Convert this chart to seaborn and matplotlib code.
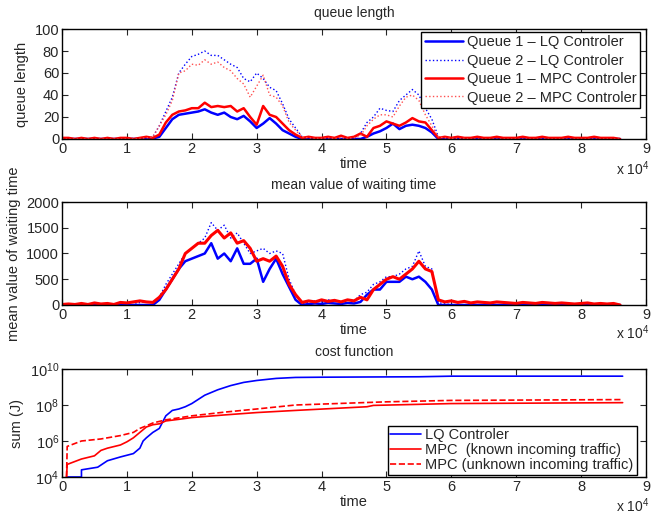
import numpy as np
import pandas as pd
import matplotlib
matplotlib.use("Agg")
import matplotlib.pyplot as plt
import seaborn as sns

# ---------------- data (time in seconds) ----------------
time_s = np.arange(0, 86001, 1000)  # 0 .. 86000 s, 87 samples

q1_lq = [0,0,0,0,0,0,0,0,0,0,0,0,0,0,
         0.5,2,10,18,22,23,24,25,27,24,22,24,20,18,21,16,10,14,19,14,8,5,2,0,
         0,0,0,0,0,0,0,0,0,
         2,5,7,10,14,9,12,13,12,10,6,0,
         0,0,0,0,0,0,0,0,0,0,0,0,0,0,0,0,0,0,0,0,0,0,0,0,0,0,0,0]
q2_lq = [0,0,0,0,0,0,0,0,0,0,0,0.5,0.5,1,
         2,12,25,38,60,68,75,77,80,76,76,72,68,65,55,52,60,55,47,44,32,18,10,2,
         0.5,0,0,0,0,0,0,1,5,
         15,20,28,26,25,35,40,45,40,28,18,2,
         1,0.5,0,0,0,0,0,0,0,0,0,0,0,0,0,0,0,0,0,0,0,0,1,0,0,0,0,0]
q1_mpc = [1,1,0,1,0,1,0,1,0,1,1,0,1,2,
          1,4,15,22,25,26,28,28,33,29,30,29,30,25,28,20,13,30,22,20,14,8,4,1,
          2,1,1,2,1,3,1,2,5,
          2,10,12,16,14,12,15,19,16,15,8,1,
          2,1,2,1,1,2,1,1,2,1,1,1,2,1,1,2,1,1,1,2,1,1,1,2,1,1,1,0]
q2_mpc = [0,0,0,0,0,0,0,0,0,0,0,0,0.5,1,
          2,12,22,35,60,62,68,67,72,68,70,65,62,55,50,38,48,58,40,38,30,15,8,2,
          1,0.5,0.5,1,0.5,1,0.5,1,3,
          12,18,22,22,20,30,38,40,35,22,12,2,
          1,0.5,0.5,0.5,0,0,0,0,0,0,0,0,0,0,0,0,0,0,0,0,0,0,0,0,0,0,0,0]

w1_lq = [0,0,0,0,0,0,0,0,0,0,0,0,0,0,
         0,100,300,500,700,850,900,950,1000,1200,900,1000,850,1100,800,800,900,450,700,900,600,350,100,0,
         20,30,20,40,30,20,40,30,60,
         200,300,300,450,450,450,550,500,550,450,300,0,
         0,0,0,0,0,0,0,0,0,0,0,0,0,0,0,0,0,0,0,0,0,0,0,0,0,0,0,0]
w2_lq = [0,0,0,0,20,0,0,0,0,0,0,0,50,60,
         50,150,400,600,800,1000,1100,1200,1300,1600,1450,1550,1300,1400,1200,1000,1050,1100,1000,1050,1000,500,200,20,
         60,80,60,100,80,60,100,80,200,
         250,400,450,550,550,600,700,750,1050,750,700,50,
         20,10,0,0,0,0,0,0,0,0,0,0,0,0,0,0,0,0,0,0,0,0,0,0,0,0,0,0]
w1_mpc = [10,20,10,30,10,40,20,30,10,50,40,60,80,60,
          50,150,300,500,700,1000,1100,1200,1200,1350,1450,1300,1400,1200,1250,1100,850,900,850,950,750,400,200,50,
          80,60,100,70,90,60,100,80,150,
          100,300,400,500,550,500,600,700,850,700,650,100,
          60,80,50,70,40,60,50,40,60,50,40,30,50,40,30,50,40,30,40,30,20,30,40,20,30,20,30,0]

cost_lq_t = [700,3000,3000,5500,7000,9000,11000,12000,12500,13000,14000,15000,16000,17000,18000,19000,
             20000,22000,24000,26000,28000,30000,33000,36000,40000,47000,55000,60000,70000,86400]
cost_lq = [1e4,1e4,2.5e4,3.5e4,8e4,1.3e5,2e5,4e5,1e6,1.5e6,3e6,5e6,2.5e7,5e7,6e7,8e7,
           1.2e8,3.5e8,7e8,1.2e9,1.8e9,2.3e9,3e9,3.4e9,3.5e9,3.6e9,3.7e9,4e9,4e9,4e9]
cost_mpc_t = [700,800,3000,5000,6000,7000,9000,10000,11000,12000,13000,14000,15000,16000,18000,
              20000,25000,30000,36000,47000,48000,60000,86400]
cost_mpc = [1e4,5e4,1e5,1.5e5,3e5,4e5,6e5,9e5,1.5e6,3e6,6e6,8e6,9e6,1.3e7,1.6e7,
            2e7,2.8e7,3.8e7,5e7,8e7,9.5e7,1.2e8,1.35e8]
cost_mpcu_t = [700,800,3000,6000,9000,11000,12000,13000,14000,16000,20000,25000,30000,36000,
               45000,50000,60000,86400]
cost_mpcu = [1e4,5e5,1e6,1.3e6,2e6,3e6,5e6,7e6,1e7,1.5e7,2.5e7,4e7,6e7,1e8,
             1.3e8,1.5e8,1.8e8,2e8]

xticks = np.arange(0, 90001, 10000)
xticklabels = [str(i) for i in range(10)]

# ---------------- style ----------------
sns.set_style("ticks")
plt.rcParams['font.family'] = ['Liberation Sans', 'DejaVu Sans']
plt.rcParams['mathtext.default'] = 'regular'
plt.rcParams['xtick.direction'] = 'in'
plt.rcParams['ytick.direction'] = 'in'
plt.rcParams['xtick.top'] = True
plt.rcParams['ytick.right'] = True
plt.rcParams['axes.edgecolor'] = 'black'
plt.rcParams['axes.linewidth'] = 1.0
plt.rcParams['font.size'] = 10

fig = plt.figure(figsize=(6.52, 5.16), dpi=100)
W, H = 652, 516
def axrect(l, r, t, b):
    return [l / W, 1 - b / H, (r - l) / W, (b - t) / H]

ax1 = fig.add_axes(axrect(62, 646, 29, 139))
ax2 = fig.add_axes(axrect(62, 646, 202, 305))
ax3 = fig.add_axes(axrect(62, 646, 369, 477))

blue = '#0000ff'
red = '#ff0000'

# queue length
sns.lineplot(x=time_s, y=q1_lq, ax=ax1, color=blue, lw=1.8, label='Queue 1 – LQ Controler')
sns.lineplot(x=time_s, y=q2_lq, ax=ax1, color=blue, lw=1.0, linestyle=':', label='Queue 2 – LQ Controler')
sns.lineplot(x=time_s, y=q1_mpc, ax=ax1, color=red, lw=1.8, label='Queue 1 – MPC Controler')
sns.lineplot(x=time_s, y=q2_mpc, ax=ax1, color='#ff5050', lw=1.0, linestyle=':', label='Queue 2 – MPC Controler')
ax1.set_ylim(0, 100)
ax1.set_yticks([0, 20, 40, 60, 80, 100])
ax1.set_ylabel('queue length', fontsize=10.5)
ax1.set_title('queue length', fontsize=10, pad=9)

# waiting time
sns.lineplot(x=time_s, y=w2_lq, ax=ax2, color=blue, lw=1.0, linestyle=':')
sns.lineplot(x=time_s, y=w1_lq, ax=ax2, color=blue, lw=1.8)
sns.lineplot(x=time_s, y=w1_mpc, ax=ax2, color=red, lw=2.2)
ax2.set_ylim(0, 2000)
ax2.set_yticks([0, 500, 1000, 1500, 2000])
ax2.set_ylabel('mean value of waiting time', fontsize=10.5)
ax2.set_title('mean value of waiting time', fontsize=10, pad=9)

# cost function
sns.lineplot(x=cost_lq_t, y=cost_lq, ax=ax3, color=blue, lw=1.2, label='LQ Controler', estimator=None, sort=False)
sns.lineplot(x=cost_mpc_t, y=cost_mpc, ax=ax3, color=red, lw=1.2, label='MPC  (known incoming traffic)', estimator=None, sort=False)
sns.lineplot(x=cost_mpcu_t, y=cost_mpcu, ax=ax3, color=red, lw=1.2, linestyle='--', label='MPC (unknown incoming traffic)', estimator=None, sort=False)
ax3.set_yscale('log')
ax3.set_ylim(1e4, 1e10)
ax3.set_yticks([1e4, 1e6, 1e8, 1e10])
ax3.set_yticklabels(['$10^{4}$', '$10^{6}$', '$10^{8}$', '$10^{10}$'])
ax3.minorticks_off()
ax3.set_ylabel('sum (J)', fontsize=10.5)
ax3.set_title('cost function', fontsize=10, pad=9)

for ax in (ax1, ax2, ax3):
    ax.set_xlim(0, 90000)
    ax.set_xticks(xticks)
    ax.set_xticklabels(xticklabels)
    ax.set_xlabel('time', labelpad=1, fontsize=10.5)
    ax.tick_params(length=4, width=0.8, labelsize=10.5, pad=2)
    for s in ax.spines.values():
        s.set_visible(True)
        s.set_linewidth(1.0)
    ax.text(0.948, -0.27, 'x $10^{4}$', transform=ax.transAxes, ha='left', va='center', fontsize=10)

leg1 = ax1.legend(loc='upper right', bbox_to_anchor=(0.99, 0.975), frameon=True, fancybox=False,
                  edgecolor='black', framealpha=1, fontsize=10.5, handlelength=2.6,
                  borderpad=0.25, labelspacing=0.3, handletextpad=0.3, borderaxespad=0)
leg1.get_frame().set_linewidth(1.0)
leg3 = ax3.legend(loc='lower right', bbox_to_anchor=(0.984, 0.02), frameon=True, fancybox=False,
                  edgecolor='black', framealpha=1, fontsize=10.5, handlelength=2.1,
                  borderpad=0.2, labelspacing=0.05, handletextpad=0.3, borderaxespad=0)
leg3.get_frame().set_linewidth(1.0)

fig.savefig('out.png', dpi=100)
